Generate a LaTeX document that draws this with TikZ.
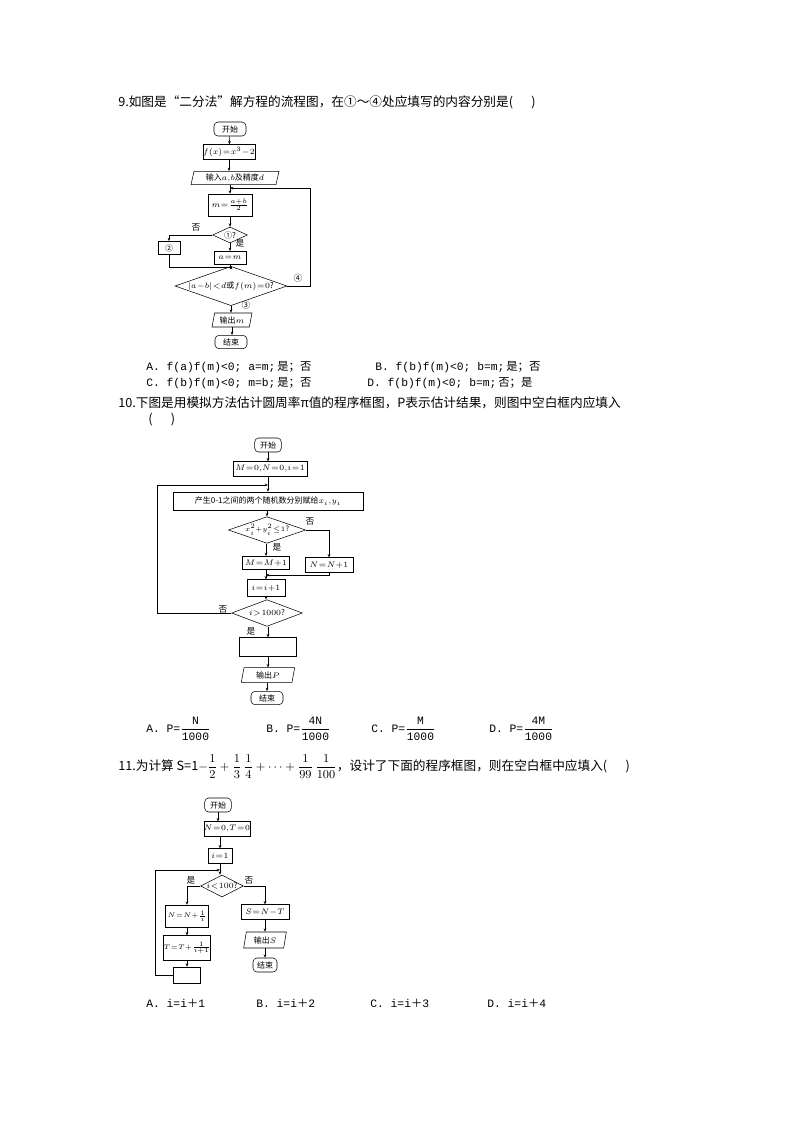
\documentclass[tikz,border=0pt]{standalone}
\usepackage{fontspec}
\setmainfont{Noto Sans CJK SC}
\newfontfamily\monof{Liberation Mono}
\usetikzlibrary{shapes.geometric,arrows.meta}
\newcommand{\tightm}{\thickmuskip=1mu\medmuskip=0.5mu\thinmuskip=0.5mu}
\begin{document}
\begin{tikzpicture}[x=0.75pt,y=-0.75pt,
 fb/.style={draw,inner sep=0pt,font=\fontsize{6}{7}\selectfont\tightm},
 term/.style={fb,rounded corners=3pt},
 para/.style={fb,trapezium,trapezium left angle=70,trapezium right angle=110,trapezium stretches body},
 dia/.style={fb,diamond,aspect=2.8},
 lab/.style={inner sep=0pt,font=\fontsize{6.5}{7}\selectfont},
 ar/.style={-{Stealth[length=2.5pt,width=2pt]},line width=0.4pt},
 ln/.style={line width=0.4pt},
 txt/.style={anchor=west,inner sep=0pt,font=\fontsize{9.5}{11}\selectfont},
 opt/.style={anchor=west,inner sep=0pt,font=\fontsize{8.5}{10}\selectfont}]
\useasboundingbox[fill=white] (0,0) rectangle (793,1122);
\tikzset{every path/.append style={line width=0.4pt}}
% ---------- Q9
\node[txt] (q9) at (118,102) {9.如图是“二分法”解方程的流程图，在①～④处应填写的内容分别是(\quad\ \ )};
\node[term,minimum width=24pt,minimum height=10.5pt] (s1) at (230,129) {开始};
\node[fb,minimum width=36pt,minimum height=11pt] (f1) at (229,152) {$f(x)=x^3-2$};
\node[para,minimum width=66pt,minimum height=10pt] (in1) at (235,178) {输入$a,b$及精度$d$};
\node[fb,minimum width=33pt,minimum height=16.5pt] (m1) at (230,205) {$m=\frac{a+b}{2}$};
\node[dia,minimum width=26pt,minimum height=12pt] (d1) at (230,235) {①?};
\node[fb,minimum width=16.5pt,minimum height=10pt] (b2) at (169,248) {②};
\node[fb,minimum width=24pt,minimum height=10pt] (am) at (230,258) {$a=m$};
\node[dia,minimum width=84pt,minimum height=21pt] (d2) at (231,286) {$|a-b|<d$或$f(m)=0$?};
\node[para,minimum width=30pt,minimum height=10.5pt] (o1) at (232,320) {输出$m$};
\node[term,minimum width=24pt,minimum height=10pt] (e1) at (231,342) {结束};
\coordinate (j1) at (230,188);
\coordinate (k1) at (231,267);
\draw[ar] (s1) -- (f1);
\draw[ar] (f1.south) -- (f1.south|-in1.north);
\draw[ar] (in1.south-|m1) -- (m1);
\draw[ar] (m1) -- (d1);
\draw[ar] (d1) -- (am);
\draw[ar] (d1.west) -| (b2.north);
\draw[ln] (b2.south) |- (k1);
\draw[ln] (am.south) -- (am.south|-k1);
\draw[ar] (k1) -- (d2.north);
\draw[ar] (d2.east) -- (310,286) -- (310,188) -- (j1);
\draw[ar] (d2.south) -- (d2.south|-o1.north);
\draw[ar] (o1.south) -- (o1.south|-e1.north);
\node[lab] (n1) at (196,227) {否};
\node[lab] (y1) at (240,243) {是};
\node[lab] (c4) at (298,278) {④};
\node[lab] (c3) at (246,305) {③};
\node[opt] (a9) at (146,367) {\monof A. f(a)f(m)<0; a=m;\,\rmfamily 是；否};
\node[opt] (b9) at (375,367) {\monof B. f(b)f(m)<0; b=m;\,\rmfamily 是；否};
\node[opt] (c9) at (146,383) {\monof C. f(b)f(m)<0; m=b;\,\rmfamily 是；否};
\node[opt] (d9) at (367,383) {\monof D. f(b)f(m)<0; b=m;\,\rmfamily 否；是};
% ---------- Q10
\node[txt] (q10) at (118,403) {10.下图是用模拟方法估计圆周率π值的程序框图，P表示估计结果，则图中空白框内应填入};
\node[txt] (q10b) at (148,420) {(\quad\ \ )};
\node[term,minimum width=20pt,minimum height=10.5pt] (s2) at (268,445) {开始};
\node[fb,minimum width=55.5pt,minimum height=11pt] (init2) at (270,469) {$M=0,N=0,i=1$};
\node[fb,minimum width=142.5pt,minimum height=13.5pt] (gen) at (268,501) {产生0-1之间的两个随机数分别赋给$x_i,y_i$};
\node[dia,minimum width=58pt,minimum height=19.5pt,font=\fontsize{5.5}{6}\selectfont\tightm] (d3) at (267,530) {$x_i^2{+}y_i^2\le1$?};
\node[fb,minimum width=35pt,minimum height=10pt] (mm) at (266,563) {$M=M+1$};
\node[fb,minimum width=36pt,minimum height=11pt] (nn) at (329,565) {$N=N+1$};
\node[fb,minimum width=28.5pt,minimum height=12.5pt] (ii) at (266,588) {$i=i+1$};
\node[dia,minimum width=53pt,minimum height=20pt] (d4) at (267,613) {$i>1000$?};
\node[fb,minimum width=43pt,minimum height=14pt] (blank2) at (268,647) {};
\node[para,minimum width=40pt,minimum height=11pt] (o2) at (268,675) {输出$P$};
\node[term,minimum width=24pt,minimum height=10pt] (e2) at (267,698) {结束};
\coordinate (j2) at (268,485);
\coordinate (k2) at (266,575);
\draw[ar] (s2) -- (s2|-init2.north);
\draw[ar] (init2.south-|gen) -- (gen);
\draw[ar] (gen.south-|d3) -- (d3);
\draw[ar] (d3.south-|mm) -- (mm);
\draw[ar] (d3.east) -| (nn.north);
\draw[ar] (nn.south) |- (k2);
\draw[ln] (mm.south) -- (k2);
\draw[ar] (k2) -- (ii);
\draw[ar] (ii) -- (ii|-d4.north);
\draw[ar] (d4.west) -- (157,613) -- (157,485) -- (j2);
\draw[ar] (d4.south-|blank2) -- (blank2);
\draw[ar] (blank2) -- (o2);
\draw[ar] (o2.south-|e2) -- (e2);
\node[lab] (n2) at (310,521) {否};
\node[lab] (y2) at (277,547) {是};
\node[lab] (n3) at (223,609) {否};
\node[lab] (y3) at (251,631) {是};
\node[opt] (a10) at (146,729) {\monof A. P=$\displaystyle\frac{\mbox{\monof N}}{\mbox{\monof 1000}}$};
\node[opt] (b10) at (266,729) {\monof B. P=$\displaystyle\frac{\mbox{\monof 4N}}{\mbox{\monof 1000}}$};
\node[opt] (c10) at (371,729) {\monof C. P=$\displaystyle\frac{\mbox{\monof M}}{\mbox{\monof 1000}}$};
\node[opt] (d10) at (489,729) {\monof D. P=$\displaystyle\frac{\mbox{\monof 4M}}{\mbox{\monof 1000}}$};
% ---------- Q11
\node[txt] (q11) at (118,767) {11.为计算 S=1$\displaystyle-\frac{1}{2}+\frac{1}{3}\,\frac{1}{4}+\cdots+\frac{1}{99}\,\frac{1}{100}$，设计了下面的程序框图，则在空白框中应填入(\quad\ \ )};
\node[term,minimum width=20pt,minimum height=10.5pt] (s3) at (218,805) {开始};
\node[fb,minimum width=34pt,minimum height=11pt] (init3) at (227,829) {$N=0,T=0$};
\node[fb,minimum width=18pt,minimum height=11pt] (i1) at (220,856) {$i=1$};
\node[dia,minimum width=32pt,minimum height=16.5pt,inner sep=-1pt] (d5) at (222,886) {$i<100$?};
\node[fb,minimum width=32pt,minimum height=16.5pt,font=\fontsize{5.5}{6}\selectfont\tightm] (nn3) at (187,916) {$N=N+\frac{1}{i}$};
\node[fb,minimum width=32pt,minimum height=18.5pt,font=\fontsize{5.5}{6}\selectfont\tightm] (tt3) at (187,948) {$T=T+\frac{1}{i+1}$};
\node[fb,minimum width=20pt,minimum height=12pt] (blank3) at (187,975) {};
\node[fb,minimum width=36pt,minimum height=11pt] (sn) at (265,912) {$S=N-T$};
\node[para,minimum width=32pt,minimum height=12pt] (o3) at (265,940) {输出$S$};
\node[term,minimum width=18pt,minimum height=10.5pt] (e3) at (265,965) {结束};
\coordinate (j3) at (220,870);
\draw[ar] (s3.south) -- (s3.south|-init3.north);
\draw[ar] (init3.south-|i1) -- (i1);
\draw[ar] (i1) -- (i1|-d5.north);
\draw[ar] (d5.west) -| (nn3.north);
\draw[ar] (d5.east) -| (sn.north);
\draw[ar] (nn3) -- (tt3);
\draw[ar] (tt3) -- (blank3);
\draw[ar] (blank3.west) -- (155,975) -- (155,870) -- (j3);
\draw[ar] (sn) -- (o3);
\draw[ar] (o3.south-|e3) -- (e3);
\node[lab] (y4) at (191,880) {是};
\node[lab] (n4) at (249,880) {否};
\node[opt] (a11) at (146,1003) {\monof A. i=i\rmfamily ＋\monof 1};
\node[opt] (b11) at (256,1003) {\monof B. i=i\rmfamily ＋\monof 2};
\node[opt] (c11) at (370,1003) {\monof C. i=i\rmfamily ＋\monof 3};
\node[opt] (d11) at (487,1003) {\monof D. i=i\rmfamily ＋\monof 4};
\end{tikzpicture}
\end{document}
